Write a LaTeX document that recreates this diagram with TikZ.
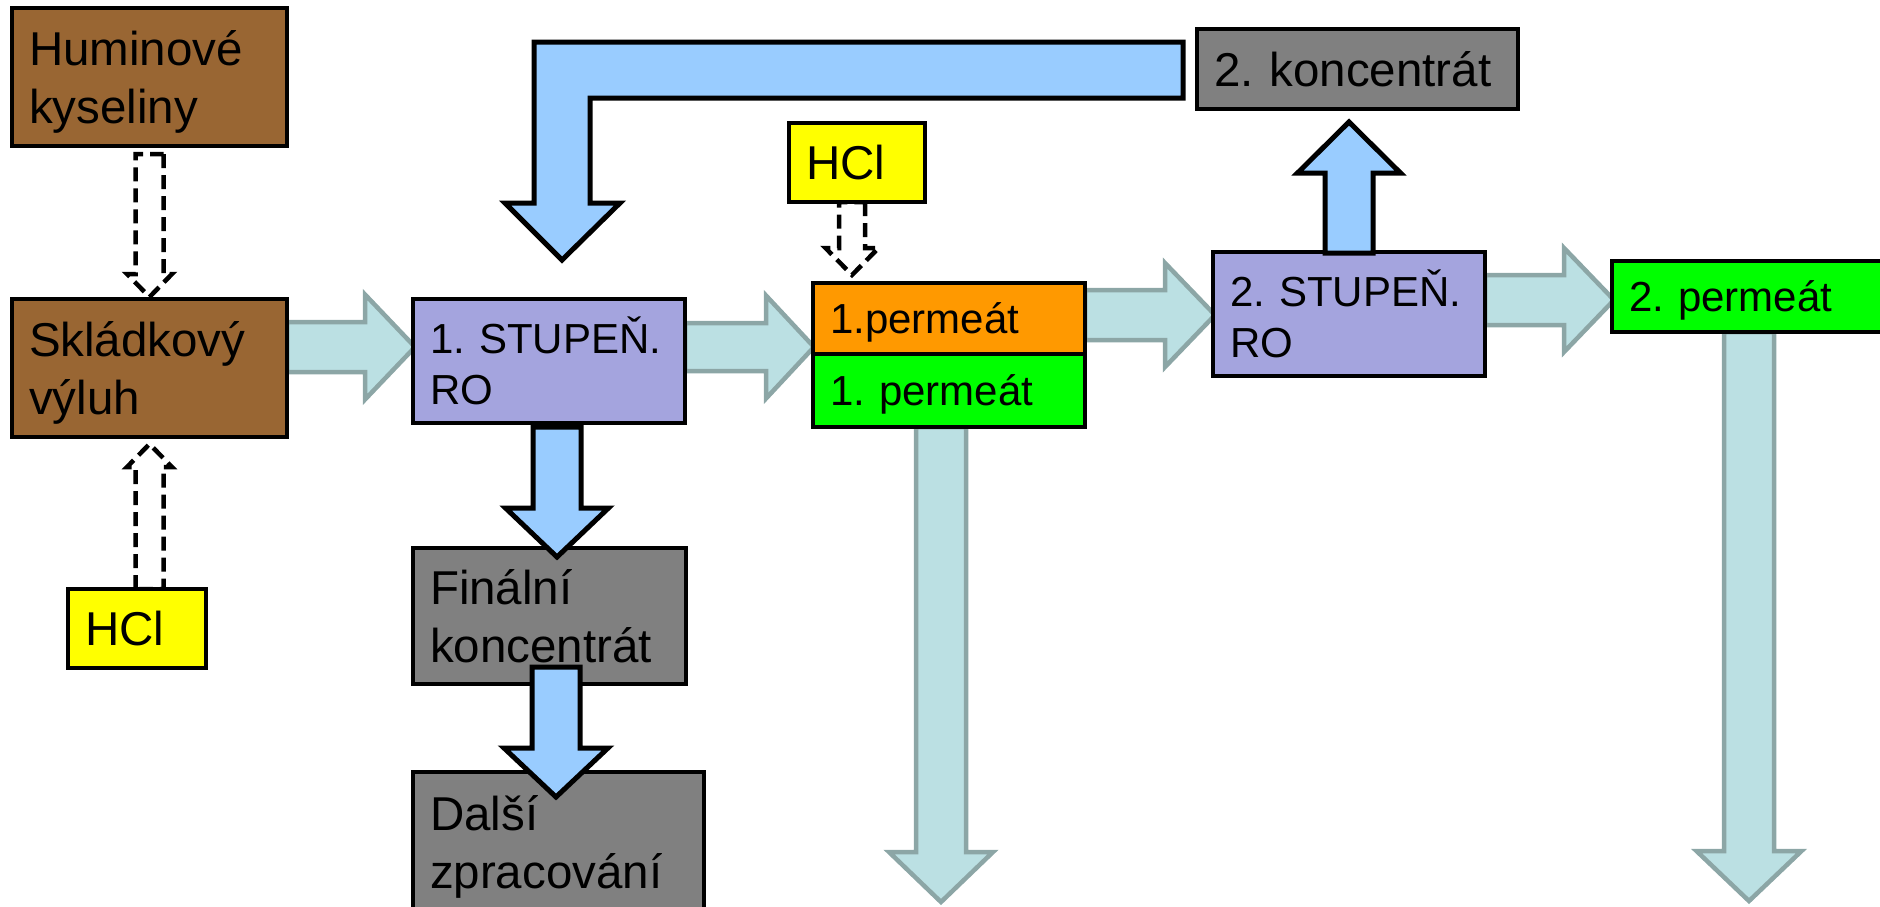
\documentclass[tikz,border=0pt]{standalone}
\usepackage{fontspec}
\setmainfont{Liberation Sans}
\usetikzlibrary{calc,backgrounds}

\begin{document}
\begin{tikzpicture}[x=1pt,y=-1pt]
  % ----- styles & colors -----
  \definecolor{humbrown}{RGB}{153,102,51}
  \definecolor{rolilac}{RGB}{164,164,222}
  \definecolor{permorange}{RGB}{255,153,0}
  \definecolor{permgreen}{RGB}{0,255,0}
  \definecolor{konzgray}{RGB}{128,128,128}
  \definecolor{hclyellow}{RGB}{255,255,0}
  \definecolor{flowfill}{RGB}{187,224,227}  % pale cyan
  \definecolor{flowedge}{RGB}{140,166,166}
  \definecolor{backfill}{RGB}{153,204,255}  % light blue
  \tikzset{
    box/.style={draw=black,line width=4.5pt,rectangle,anchor=north west,
      inner xsep=17pt,inner ysep=0pt,outer sep=0pt,align=left,
      font=\fontsize{47.5}{58}\selectfont\frenchspacing},
    smallbox/.style={box,font=\fontsize{42}{51}\selectfont\frenchspacing},
    oneline/.style={text depth=0pt},
    twoline/.style={text depth=58pt},
    flow/.style={draw=flowedge,fill=flowfill,line width=4.5pt},
    backflow/.style={draw=black,fill=backfill,line width=5pt},
    dosing/.style={draw=black,fill=white,line width=4.5pt,dash pattern=on 14pt off 7pt}
  }

  % block arrow: style, from, to, shaft half width, head half width, head length
  \def\blockarrow#1#2#3#4#5#6{%
    \path (#2) coordinate (ba-s) (#3) coordinate (ba-t);
    \path ($(ba-t)!#6!(ba-s)$) coordinate (ba-h);
    \draw[#1] ($(ba-s)!#4!90:(ba-t)$) -- ($(ba-h)!#4!-90:(ba-s)$)
      -- ($(ba-h)!#5!-90:(ba-s)$) -- (ba-t) -- ($(ba-h)!#5!90:(ba-s)$)
      -- ($(ba-h)!#4!90:(ba-s)$) -- ($(ba-s)!#4!-90:(ba-t)$) -- cycle;
  }

  \useasboundingbox (0,0) rectangle (1880,906);

  % ----- boxes -----
  \node[box,twoline,fill=humbrown,minimum width=275,minimum height=138,text width=241pt] (hum) at (12,8) {Huminové\\kyseliny};
  \node[box,twoline,fill=humbrown,minimum width=275,minimum height=138,text width=241pt] (skl) at (12,299) {Skládkový\\výluh};
  \node[box,fill=hclyellow,minimum width=138,minimum height=79,text width=104pt] (hcl1) at (68,589) {HCl};
  \node[smallbox,fill=rolilac,minimum width=272,minimum height=124,text width=238pt] (st1) at (413,299) {1. STUPEŇ.\\RO};
  \node[box,fill=hclyellow,minimum width=136,minimum height=79,text width=102pt] (hcl2) at (789,123) {HCl};
  \node[smallbox,oneline,fill=permorange,minimum width=272,minimum height=71,text width=238pt] (prm1a) at (813,283) {1.permeát};
  \node[smallbox,oneline,fill=permgreen,minimum width=272,minimum height=73,text width=238pt] (prm1b) at (813,354) {1. permeát};
  \node[box,fill=konzgray,minimum width=321,minimum height=80,text width=287pt] (konc2) at (1197,29) {2. koncentrát};
  \node[smallbox,fill=rolilac,minimum width=272,minimum height=124,text width=238pt] (st2) at (1213,252) {2. STUPEŇ.\\RO};
  \node[smallbox,oneline,fill=permgreen,minimum width=288,minimum height=71,text width=254pt] (prm2) at (1612,261) {2. permeát};
  \node[box,fill=konzgray,minimum width=273,minimum height=136,text width=239pt] (fin) at (413,548) {Finální\\koncentrát};
  \node[box,twoline,fill=konzgray,minimum width=291,minimum height=140,text width=257pt] (dalsi) at (413,772) {Další\\zpracování};

  % ----- outflow ends -----
  \coordinate (out1) at (941,902);
  \coordinate (out2) at (1749,901);

  % ----- main stream and dosing (behind the boxes) -----
  \begin{pgfonlayer}{background}
    \blockarrow{dosing}{$(hum.south)+(0,8)$}{$(skl.north)+(0,-2)$}{14pt}{22.5pt}{23pt}
    \blockarrow{dosing}{hcl1.north -| skl.south}{$(skl.south)+(0,7)$}{14pt}{22.5pt}{23pt}
    \blockarrow{dosing}{$(hcl2.south)+(-5,0)$}{$(prm1a.north -| hcl2.south)+(-5,-8)$}{13pt}{26.5pt}{27pt}

    \blockarrow{flow}{$(skl.east)+(0,-21)$}{$(st1.west)+(2,-14)$}{25pt}{52.5pt}{50pt}
    \blockarrow{flow}{$(st1.east)+(0,-14)$}{$(prm1a.south west)+(1,-7)$}{24pt}{51.5pt}{48pt}
    \blockarrow{flow}{$(prm1a.east)+(0,-3.5)$}{$(st2.west)+(2,1)$}{25pt}{52pt}{50pt}
    \blockarrow{flow}{$(st2.east)+(0,-14)$}{$(prm2.west)+(2,3.5)$}{25pt}{52pt}{50pt}
    \blockarrow{flow}{$(prm1b.south)+(-8,0)$}{out1}{25pt}{52pt}{50pt}
    \blockarrow{flow}{$(prm2.south)+(-7,0)$}{out2}{25pt}{52.5pt}{50pt}
  \end{pgfonlayer}

  % ----- concentrate streams -----
  \blockarrow{backflow}{$(st1.south)+(8,4)$}{$(fin.north)+(7.5,9)$}{24pt}{51.5pt}{49pt}
  \blockarrow{backflow}{$(fin.south)+(6.5,-17)$}{$(dalsi.north)+(-2.5,25)$}{24pt}{52pt}{49pt}
  \blockarrow{backflow}{$(st2.north)+(0,1)$}{$(konc2.south)+(-8.5,13)$}{24pt}{51.5pt}{51pt}

  % return of 2. koncentrát to 1. stage
  \coordinate (ret) at ($(konc2.west)+(-14,1)$);
  \coordinate (rettip) at ($(st1.north)+(13,-39)$);
  \draw[backflow] ($(ret)+(0,-28)$) -| ($(rettip)+(-28,-57)$) -- ++(-29,0) -- (rettip)
    -- ++(58,-57) -- ++(-30,0) |- ($(ret)+(0,28)$) -- cycle;

\end{tikzpicture}
\end{document}
